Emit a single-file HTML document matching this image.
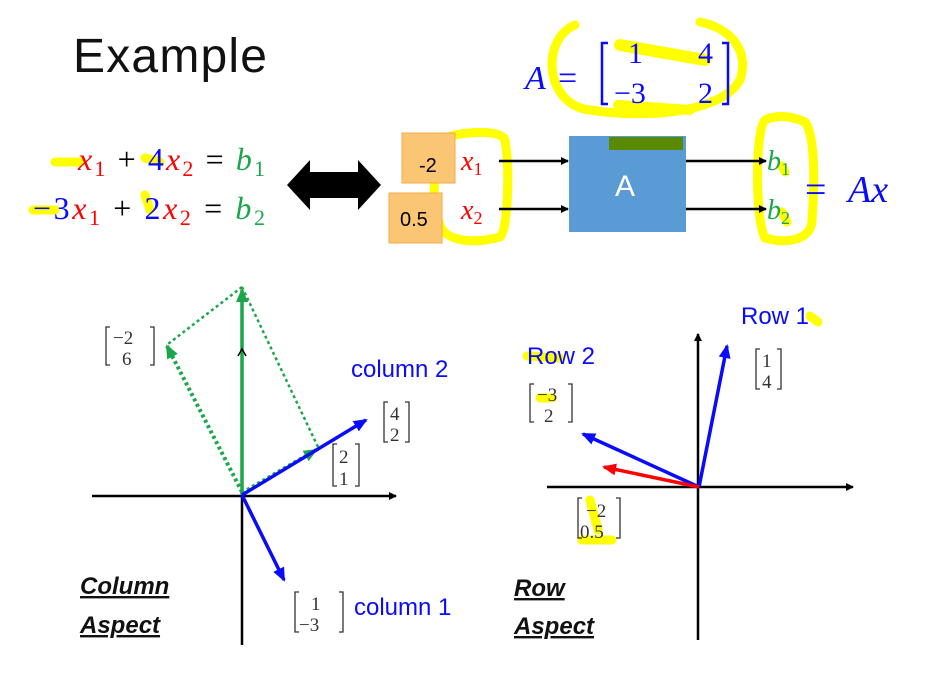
<!DOCTYPE html>
<html><head><meta charset="utf-8"><style>html,body{margin:0;padding:0;background:#fff}svg{display:block}</style></head>
<body>
<svg width="935" height="684" viewBox="0 0 935 684" xmlns="http://www.w3.org/2000/svg">
<defs>
<marker id="ak" markerWidth="8" markerHeight="8" refX="7" refY="4" orient="auto" markerUnits="userSpaceOnUse"><path d="M0,0 L8,4 L0,8 z" fill="#000"/></marker>
<marker id="ab" markerWidth="14" markerHeight="12" refX="12" refY="6" orient="auto" markerUnits="userSpaceOnUse"><path d="M0,0 L14,6 L0,12 z" fill="#0a0aff"/></marker>
<marker id="ar" markerWidth="14" markerHeight="12" refX="12" refY="6" orient="auto" markerUnits="userSpaceOnUse"><path d="M0,0 L14,6 L0,12 z" fill="#f00"/></marker>
<marker id="ag" markerWidth="14" markerHeight="12" refX="12" refY="6" orient="auto" markerUnits="userSpaceOnUse"><path d="M0,0 L14,6 L0,12 z" fill="#1aa64a"/></marker>
</defs>
<text x="73" y="72" font-family="Liberation Sans, sans-serif" font-size="48" textLength="194" fill="#111">Example</text>

<g stroke="#ffff00" fill="none" stroke-linecap="round" stroke-width="9">
<path d="M575,25 C540,40 545,105 590,110 C640,118 720,115 740,80 C750,50 730,28 700,22"/>
<path d="M620,45 L705,60" stroke-width="12"/>
<path d="M618,105 L690,110" stroke-width="10"/>
<path d="M440,145 C430,135 500,125 505,140 C510,170 508,230 500,237 C470,245 445,240 440,225 C430,200 435,170 440,145"/>
<path d="M765,120 C755,130 755,220 765,238 C790,245 812,238 812,220 C815,180 815,135 805,122 C790,115 775,115 765,120"/>
<path d="M55,162 L80,162 M145,158 L160,162 M33,210 L55,210 M145,195 L150,210 M782,166 L785,172 M782,212 L787,222 M810,316 L818,322 M527,356 L560,358 M540,398 L552,398 M590,500 L598,530 M582,540 L612,540"/>
</g>

<g font-family="Liberation Serif, serif" font-size="32">
<text x="78" y="170" textLength="187" lengthAdjust="spacing"><tspan fill="#f00" font-style="italic">x</tspan><tspan fill="#f00" font-size="22" dy="6">1</tspan><tspan dy="-6" fill="#000"> + </tspan><tspan fill="#0a0aff">4</tspan><tspan fill="#f00" font-style="italic">x</tspan><tspan fill="#f00" font-size="22" dy="6">2</tspan><tspan dy="-6" fill="#000"> = </tspan><tspan fill="#1aa64a" font-style="italic">b</tspan><tspan fill="#1aa64a" font-size="22" dy="6">1</tspan></text>
<text x="33" y="219" textLength="232" lengthAdjust="spacing"><tspan fill="#0a0aff">−3</tspan><tspan fill="#f00" font-style="italic">x</tspan><tspan fill="#f00" font-size="22" dy="6">1</tspan><tspan dy="-6" fill="#000"> + </tspan><tspan fill="#0a0aff">2</tspan><tspan fill="#f00" font-style="italic">x</tspan><tspan fill="#f00" font-size="22" dy="6">2</tspan><tspan dy="-6" fill="#000"> = </tspan><tspan fill="#1aa64a" font-style="italic">b</tspan><tspan fill="#1aa64a" font-size="22" dy="6">2</tspan></text>
</g>
<path d="M287,185 L310,160 L310,172 L358,172 L358,160 L381,185 L358,210 L358,198 L310,198 L310,210 z" fill="#000"/>

<rect x="402" y="133" width="53" height="50" fill="#fac673" stroke="#f5a94a"/>
<rect x="389" y="193" width="53" height="50" fill="#fac673" stroke="#f5a94a"/>
<text x="419" y="172" font-family="Liberation Sans, sans-serif" font-size="20">-2</text>
<text x="400" y="226" font-family="Liberation Sans, sans-serif" font-size="20">0.5</text>
<g font-family="Liberation Serif, serif" font-size="28" fill="#f00" font-style="italic">
<text x="461" y="170">x<tspan font-size="18" dy="5" font-style="normal">1</tspan></text>
<text x="461" y="219">x<tspan font-size="18" dy="5" font-style="normal">2</tspan></text>
</g>
<g stroke="#000" stroke-width="2.5" marker-end="url(#ak)">
<line x1="499" y1="161" x2="568" y2="161"/><line x1="499" y1="209" x2="568" y2="209"/>
<line x1="686" y1="161" x2="766" y2="161"/><line x1="686" y1="209" x2="766" y2="209"/>
</g>
<rect x="569" y="136" width="117" height="96" fill="#5b9bd5"/>
<rect x="609" y="137" width="74" height="13" fill="#5a8a00"/>
<text x="615" y="196" font-family="Liberation Sans, sans-serif" font-size="30" fill="#fff">A</text>
<g font-family="Liberation Serif, serif" font-size="28" fill="#1aa64a" font-style="italic">
<text x="767" y="170">b<tspan font-size="18" dy="5" font-style="normal">1</tspan></text>
<text x="767" y="219">b<tspan font-size="18" dy="5" font-style="normal">2</tspan></text>
</g>
<g font-family="Liberation Serif, serif" font-size="38" fill="#0a0aff">
<text x="805" y="202">=</text><text x="848" y="202" font-style="italic">Ax</text>
</g>

<g font-family="Liberation Serif, serif" font-size="34" fill="#0a0aff">
<text x="525" y="89" font-style="italic">A</text><text x="558" y="89">=</text>
</g>
<path d="M608,43 L602,43 L602,104 L608,104 M722,43 L728,43 L728,104 L722,104" stroke="#0a0aff" stroke-width="2.5" fill="none"/>
<g font-family="Liberation Serif, serif" font-size="30" fill="#0a0aff">
<text x="628" y="63">1</text><text x="698" y="63">4</text><text x="614" y="103">−3</text><text x="698" y="103">2</text>
</g>

<g stroke="#000" stroke-width="2.5">
<line x1="92" y1="496" x2="396" y2="496" marker-end="url(#ak)"/>
<line x1="242" y1="496" x2="242" y2="645"/>
</g>
<g stroke="#1aa64a" fill="none">
<line x1="242" y1="495" x2="242" y2="290" stroke-width="3.5" marker-end="url(#ag)"/>
<line x1="242" y1="492" x2="167" y2="346" stroke-width="4" stroke-dasharray="3,3" marker-end="url(#ag)"/>
<line x1="242" y1="287" x2="168" y2="344" stroke-width="2.5" stroke-dasharray="3,3"/>
<line x1="242" y1="287" x2="318" y2="447" stroke-width="2.5" stroke-dasharray="3,3"/>
<line x1="242" y1="493" x2="316" y2="450" stroke-width="4" stroke-dasharray="3,3" marker-end="url(#ag)"/>
</g>
<path d="M238,356 L242,349 L246,356" stroke="#000" fill="none" stroke-width="1.5"/>
<g stroke="#0a0aff" stroke-width="3.5">
<line x1="242" y1="495" x2="366" y2="420" marker-end="url(#ab)"/>
<line x1="242" y1="495" x2="284" y2="580" marker-end="url(#ab)"/>
</g>
<g font-family="Liberation Sans, sans-serif" font-size="24" fill="#0a0aff">
<text x="351" y="377">column 2</text><text x="354" y="615">column 1</text>
</g>
<g font-family="Liberation Serif, serif" font-size="19" fill="#333" stroke="#333">
<path d="M110,327 L106,327 L106,365 L110,365 M150,327 L154,327 L154,365 L150,365" fill="none" stroke-width="1.3"/>
<text x="113" y="344" stroke="none">−2</text><text x="122" y="365" stroke="none">6</text>
<path d="M388,402 L384,402 L384,442 L388,442 M405,402 L409,402 L409,442 L405,442" fill="none" stroke-width="1.3"/>
<text x="390" y="420" stroke="none">4</text><text x="390" y="441" stroke="none">2</text>
<path d="M337,444 L333,444 L333,486 L337,486 M355,444 L359,444 L359,486 L355,486" fill="none" stroke-width="1.3"/>
<text x="339" y="463" stroke="none">2</text><text x="339" y="485" stroke="none">1</text>
<path d="M299,592 L295,592 L295,632 L299,632 M339,592 L343,592 L343,632 L339,632" fill="none" stroke-width="1.3"/>
<text x="311" y="610" stroke="none">1</text><text x="299" y="631" stroke="none">−3</text>
</g>
<g font-family="Liberation Sans, sans-serif" font-size="24" font-weight="bold" font-style="italic" fill="#111" text-decoration="underline">
<text x="80" y="594">Column</text><text x="80" y="633">Aspect</text>
<text x="514" y="596">Row</text><text x="514" y="634">Aspect</text>
</g>

<g stroke="#000" stroke-width="2.5">
<line x1="547" y1="487" x2="853" y2="487" marker-end="url(#ak)"/>
<line x1="698" y1="640" x2="698" y2="334" marker-end="url(#ak)"/>
</g>
<line x1="699" y1="487" x2="727" y2="346" stroke="#0a0aff" stroke-width="3.5" marker-end="url(#ab)"/>
<line x1="699" y1="487" x2="583" y2="434" stroke="#0a0aff" stroke-width="3.5" marker-end="url(#ab)"/>
<line x1="699" y1="487" x2="604" y2="467" stroke="#f00" stroke-width="3.5" marker-end="url(#ar)"/>
<g font-family="Liberation Sans, sans-serif" font-size="24" fill="#0a0aff">
<text x="741" y="324">Row 1</text><text x="527" y="364">Row 2</text>
</g>
<g font-family="Liberation Serif, serif" font-size="19" fill="#333" stroke="#333">
<path d="M760,349 L756,349 L756,389 L760,389 M777,349 L781,349 L781,389 L777,389" fill="none" stroke-width="1.3"/>
<text x="762" y="367" stroke="none">1</text><text x="762" y="388" stroke="none">4</text>
<path d="M534,384 L530,384 L530,422 L534,422 M568,384 L572,384 L572,422 L568,422" fill="none" stroke-width="1.3"/>
<text x="537" y="401" stroke="none">−3</text><text x="544" y="422" stroke="none">2</text>
<path d="M582,498 L578,498 L578,538 L582,538 M616,498 L620,498 L620,538 L616,538" fill="none" stroke-width="1.3"/>
<text x="586" y="517" stroke="none">−2</text><text x="580" y="538" stroke="none">0.5</text>
</g>
</svg>
</body></html>
